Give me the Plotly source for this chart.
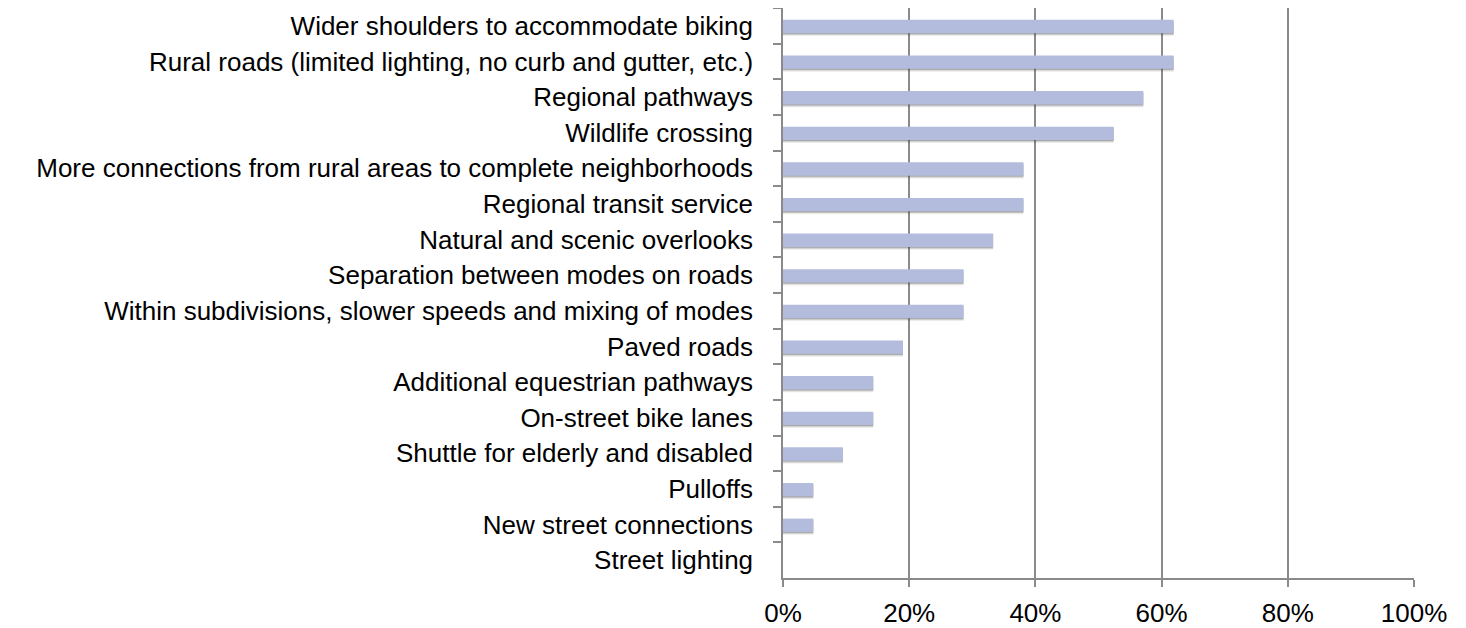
import plotly.graph_objects as go

categories = [
    "Wider shoulders to accommodate biking",
    "Rural roads (limited lighting, no curb and gutter, etc.)",
    "Regional pathways",
    "Wildlife crossing",
    "More connections from rural areas to complete neighborhoods",
    "Regional transit service",
    "Natural and scenic overlooks",
    "Separation between modes on roads",
    "Within subdivisions, slower speeds and mixing of modes",
    "Paved roads",
    "Additional equestrian pathways",
    "On-street bike lanes",
    "Shuttle for elderly and disabled",
    "Pulloffs",
    "New street connections",
    "Street lighting",
]
values = [0.619, 0.619, 0.571, 0.524, 0.381, 0.381, 0.333, 0.286, 0.286,
          0.190, 0.143, 0.143, 0.095, 0.048, 0.048, 0.0]
x_tickvals = [0, 0.2, 0.4, 0.6, 0.8, 1.0]
x_ticktext = ["0%", "20%", "40%", "60%", "80%", "100%"]

BW = 0.375
fig = go.Figure()
for off, alpha in [(0.10, 0.10), (0.07, 0.18), (0.045, 0.25)]:
    fig.add_trace(go.Bar(
        x=values, y=categories, orientation="h", width=BW, offset=-BW / 2 + off,
        marker=dict(color=f"rgba(60,60,60,{alpha})", line=dict(width=0)),
        hoverinfo="skip", showlegend=False,
    ))
fig.add_trace(go.Bar(
    x=values, y=categories, orientation="h", width=BW, offset=-BW / 2 + 0.02,
    marker=dict(color="#b3bcdc", line=dict(width=0)), showlegend=False,
))

fig.update_layout(
    width=1466, height=628,
    margin=dict(l=775, r=60, t=0, b=58),
    paper_bgcolor="white", plot_bgcolor="white",
    barmode="overlay",
    font=dict(family="Liberation Sans, Arial, Helvetica, sans-serif", size=26, color="black"),
    xaxis=dict(
        range=[0, 1.0], tickvals=x_tickvals, ticktext=x_ticktext,
        showgrid=True, gridcolor="#8a8a8a", gridwidth=1.5,
        showline=True, linecolor="#8a8a8a", linewidth=1.5,
        ticks="outside", ticklen=7, tickcolor="#8a8a8a", tickwidth=1.5,
        zeroline=False, tickfont=dict(size=26), ticklabelstandoff=4,
    ),
    yaxis=dict(
        type="category", categoryorder="array", categoryarray=categories,
        autorange="reversed", showgrid=False,
        showline=True, linecolor="#8a8a8a", linewidth=1.5,
        ticks="outside", tickson="boundaries", ticklen=8, tickcolor="#8a8a8a", tickwidth=1.5,
        tickfont=dict(size=26), ticklabelstandoff=23,
    ),
)

fig.write_html("out.html")
